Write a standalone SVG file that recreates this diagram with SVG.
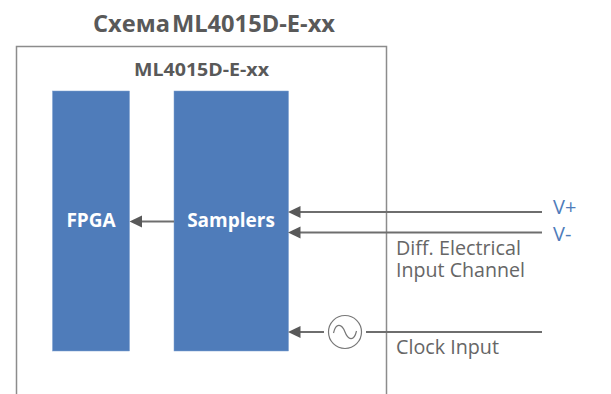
<svg xmlns="http://www.w3.org/2000/svg" width="611" height="394" viewBox="0 0 611 394">
<style>
text{font-family:"Open Sans","Noto Sans","Liberation Sans",sans-serif}
.h{font-weight:700;fill:#595959}
.w{font-weight:700;fill:#fff;font-size:19px;text-anchor:middle}
.l{font-size:19.500px;fill:#666}
.v{font-size:20px;fill:#4f7cba}
.b{fill:#4f7cba;stroke:#7da0d0;stroke-width:.5}
.c{stroke:#6e6e6e;stroke-width:2;fill:none}
.p{fill:#595959}
</style>
<rect width="611" height="394" fill="#fff"/>
<text class="h" x="93" y="32" font-size="22.500" word-spacing="-4" textLength="242" lengthAdjust="spacingAndGlyphs">Схема ML4015D-E-xx</text>
<g id="enclosure"><path d="M16.500 394V46.500H386.500V394" fill="none" stroke="#8c8c8c" stroke-width="1.500"/>
<text class="h" x="134" y="76" font-size="18.500" textLength="135" lengthAdjust="spacingAndGlyphs">ML4015D-E-xx</text></g>
<g id="fpga"><rect class="b" x="52.500" y="91" width="77" height="260"/><text class="w" x="91" y="227">FPGA</text></g>
<g id="samplers"><rect class="b" x="174" y="91" width="114.500" height="260"/><text class="w" x="231" y="227">Samplers</text></g>
<g id="connectors">
<path class="c" d="M174 221.500H142"/><path class="p" d="M129.500 221.500L142 215.500V227.500Z"/>
<path class="c" d="M542 212H300"/><path class="p" d="M288 212L300.500 206V218Z"/>
<path class="c" d="M542 232.500H300"/><path class="p" d="M288 232.500L300.500 226.500V238.500Z"/>
<path class="c" d="M324 332H300"/><path class="p" d="M288 332L300.500 326V338Z"/>
<path class="c" d="M366 332H542"/>
</g>
<g id="clock"><circle cx="345" cy="332" r="16.500" fill="#fff" stroke="#777" stroke-width="1.200"/><path d="M333.500 333C336 322 342 324 345 332S354 342 356.500 331" fill="none" stroke="#777" stroke-width="1.200"/></g>
<g id="labels">
<text class="v" x="553" y="214">V+</text>
<text class="v" x="553" y="241">V-</text>
<text class="l" x="396" y="255" textLength="125" lengthAdjust="spacingAndGlyphs">Diff. Electrical</text>
<text class="l" x="396" y="277" textLength="129" lengthAdjust="spacingAndGlyphs">Input Channel</text>
<text class="l" x="396" y="354" textLength="103" lengthAdjust="spacingAndGlyphs">Clock Input</text>
</g>
</svg>
